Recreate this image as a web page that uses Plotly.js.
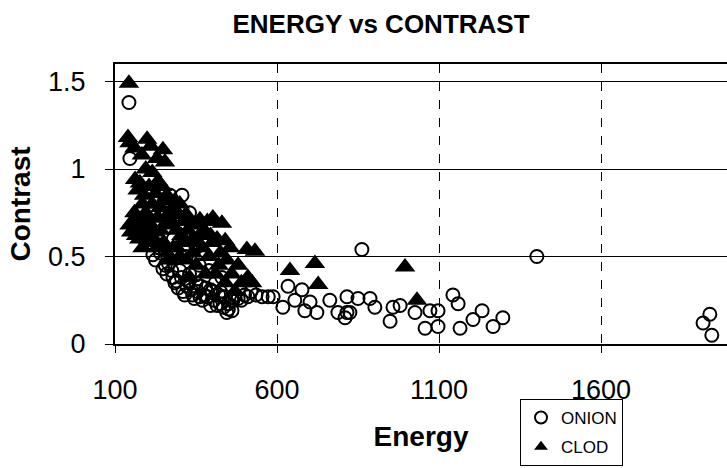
<!DOCTYPE html>
<html>
<head>
<meta charset="utf-8">
<script src="https://cdn.plot.ly/plotly-3.0.1.min.js"></script>
<style>html,body{margin:0;padding:0;background:#fff;}#chart{width:727px;height:468px;}</style>
</head>
<body>
<div id="chart"></div>
<script>
// ONION series (Energy, Contrast)
const onionEnergy = [143,146,307,217,248,279,322,362,424,445,240,265,300,330,350,380,400,420,440,460,480,500,290,310,340,370,395,410,430,360,390,320,280,300,330,350,230,270,
  225,235,255,260,275,285,295,305,315,325,335,345,355,365,375,385,395,405,415,425,435,450,470,490,510,520,535,450,190,210,260,
  433,461,464,554,573,588,618,634,677,655,686,723,702,763,788,816,810,825,850,887,902,816,949,958,980,1026,1057,1072,1097,1097,1143,1159,1165,1205,1233,1267,1297,862,1402,1936,1915,1942];
const onionContrast = [1.38,1.06,0.85,0.51,0.43,0.38,0.33,0.27,0.23,0.18,0.52,0.46,0.42,0.40,0.35,0.32,0.30,0.28,0.27,0.25,0.26,0.28,0.36,0.30,0.28,0.25,0.22,0.35,0.38,0.45,0.42,0.50,0.60,0.66,0.75,0.55,0.70,0.85,
  0.48,0.55,0.45,0.40,0.42,0.35,0.32,0.38,0.28,0.36,0.31,0.26,0.30,0.33,0.28,0.27,0.31,0.25,0.22,0.30,0.21,0.23,0.28,0.25,0.27,0.30,0.28,0.20,0.60,0.62,0.75,
  0.27,0.19,0.25,0.27,0.27,0.27,0.21,0.33,0.31,0.25,0.19,0.18,0.24,0.25,0.18,0.27,0.15,0.18,0.26,0.26,0.21,0.18,0.13,0.21,0.22,0.18,0.09,0.19,0.19,0.10,0.28,0.23,0.09,0.14,0.19,0.10,0.15,0.54,0.50,0.17,0.12,0.05];

// CLOD series (Energy, Contrast)
const clodEnergy = [143,140,199,248,183,254,162,177,233,190,215,250,280,300,320,160,175,150,165,200,230,260,290,310,331,362,402,409,220,250,280,310,340,370,440,430,390,420,350,300,270,507,532,510,523,460,470,380,330,640,717,727,995,1032,240,270,200,185,360,400,
  145,160,210,230,195,215,170,185,205,225,245,260,155,170,185,195,210,225,240,255,275,285,295,305,325,345,355,375,385,395,415,425,445,455,480,490,440,410,230,260,290,320,340,145,160,175,205];
const clodContrast = [1.49,1.18,1.17,1.11,1.08,1.04,0.94,0.92,0.93,0.85,0.80,0.82,0.78,0.80,0.74,0.75,0.68,0.64,0.62,0.70,0.72,0.68,0.65,0.70,0.70,0.71,0.72,0.70,0.60,0.58,0.55,0.58,0.60,0.55,0.59,0.69,0.50,0.45,0.45,0.50,0.48,0.54,0.53,0.38,0.35,0.40,0.30,0.40,0.38,0.42,0.46,0.34,0.44,0.25,0.65,0.75,0.62,0.55,0.62,0.58,
  1.15,1.12,1.13,1.06,1.00,0.98,0.88,0.80,0.90,0.86,0.90,0.85,0.70,0.72,0.66,0.75,0.68,0.64,0.78,0.72,0.70,0.82,0.74,0.62,0.65,0.68,0.58,0.65,0.70,0.62,0.60,0.52,0.48,0.55,0.45,0.35,0.35,0.40,0.55,0.52,0.55,0.48,0.52,0.68,0.66,0.60,0.58];

const xTicks = [100, 600, 1100, 1600];
const yTicks = [0, 0.5, 1, 1.5];

const FONT = 'Liberation Sans, Arial, sans-serif';

const traces = [
  {
    type: 'scatter', mode: 'markers', name: 'ONION', legendgroup: 'a',
    x: onionEnergy, y: onionContrast,
    marker: {symbol: 'circle-open', size: 13, color: '#000', line: {width: 2, color: '#000'}}
  },
  {
    type: 'scatter', mode: 'markers', name: 'CLOD', legendgroup: 'b',
    x: clodEnergy, y: clodContrast,
    marker: {symbol: 'triangle-up', size: 18, color: '#000'}
  }
];

const layout = {
  width: 727, height: 468,
  margin: {l: 115, r: 0, t: 64, b: 124, autoexpand: false},
  paper_bgcolor: '#fff', plot_bgcolor: '#fff',
  font: {family: FONT, color: '#000'},
  title: {
    text: '<b>ENERGY vs CONTRAST</b>',
    font: {family: FONT, size: 26, color: '#000'},
    x: 381/727, xref: 'container', xanchor: 'center',
    y: 1 - 24/468, yref: 'container', yanchor: 'middle'
  },
  xaxis: {
    range: [100, 100 + 612*500/162],
    tickvals: xTicks, ticktext: xTicks.map(String),
    ticks: 'outside', ticklen: 7, tickcolor: '#000', tickwidth: 1,
    showline: true, linecolor: '#000', linewidth: 2, mirror: true,
    showgrid: true, gridcolor: '#000', gridwidth: 1, griddash: 'dash',
    zeroline: false,
    tickfont: {family: FONT, size: 27, color: '#000'},
    ticklabelstandoff: 14,
    title: {text: '<b>Energy</b>', font: {family: FONT, size: 28, color: '#000'}, standoff: 22}
  },
  yaxis: {
    range: [0, 1.6],
    tickvals: yTicks, ticktext: ['0', '0.5', '1', '1.5'],
    ticks: 'outside', ticklen: 8, tickcolor: '#000', tickwidth: 1,
    showline: true, linecolor: '#000', linewidth: 2, mirror: false,
    showgrid: true, gridcolor: '#000', gridwidth: 1,
    zeroline: false,
    tickfont: {family: FONT, size: 27, color: '#000'},
    ticklabelstandoff: 14,
    title: {text: '<b>Contrast</b>', font: {family: FONT, size: 28, color: '#000'}, standoff: 9}
  },
  showlegend: true,
  legend: {
    x: (520-115)/612, xanchor: 'left',
    y: (344-399)/280, yanchor: 'top',
    bordercolor: '#000', borderwidth: 1, bgcolor: '#fff',
    font: {family: FONT, size: 17, color: '#000'},
    traceorder: 'grouped', tracegroupgap: 4,
    itemsizing: 'constant', itemwidth: 30
  }
};

Plotly.newPlot('chart', traces, layout, {displayModeBar: false, staticPlot: true});
</script>
</body>
</html>
